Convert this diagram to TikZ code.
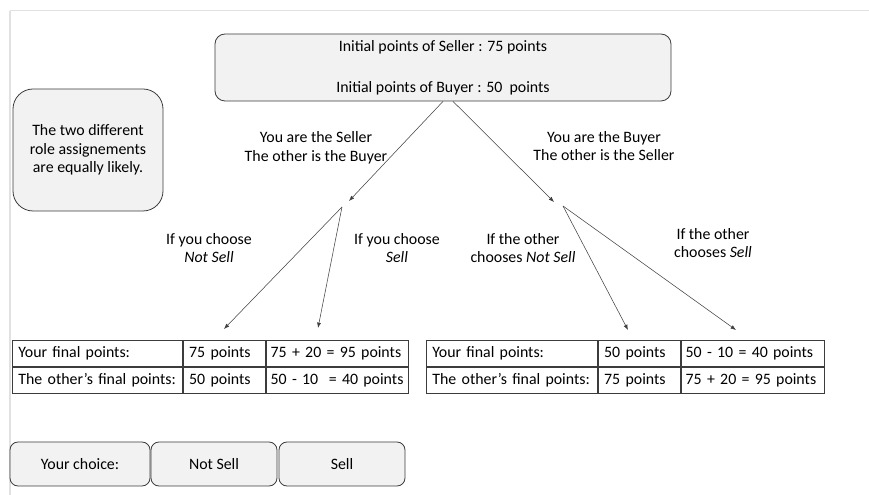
\documentclass[tikz,border=0pt]{standalone}
\usepackage{fontspec}
\setmainfont{Carlito}
\usetikzlibrary{arrows.meta}
\definecolor{boxfill}{RGB}{242,242,242}
\definecolor{boxline}{RGB}{60,60,60}
\definecolor{framegray}{RGB}{225,225,225}

\begin{document}
\begin{tikzpicture}[x=0.75pt,y=0.75pt,yscale=-1,xscale=1,
    font=\fontsize{11.9}{14}\selectfont,
    rbox/.style={draw=boxline, fill=boxfill, line width=0.6pt, align=center, inner sep=0pt},
    cell/.style={draw=boxline, line width=0.6pt, anchor=north west, align=left, inner xsep=4.5pt, inner ysep=0pt, minimum height=19.5pt},
    lbl/.style={align=center, inner sep=0.75pt},
    arr/.style={draw=black!75, line width=0.4pt, -{Latex[length=4pt,width=3pt]}}
  ]
        \useasboundingbox (0,0) rectangle (869,495);

        %Frame of the screen
        \draw [framegray, line width=1.5pt] (10,495) -- (10,11) ;
        \draw [framegray, line width=0.75pt] (10,11) -- (869,11) ;

        %Rounded boxes
        \node [rbox, rounded corners=7.5pt, minimum width=342pt, minimum height=50.25pt] (init) at (443,67.5)
            {Initial points of Seller : 75 points\\[16.75pt]Initial points of Buyer : 50\ \ points};
        \node [rbox, rounded corners=15pt, minimum width=112.5pt, minimum height=91.5pt] (likely) at (88,150)
            {The two different\\role assignements\\are equally likely.};

        %Branch points
        \coordinate (selIn) at (349,201);
        \coordinate (selFork) at (342,207);
        \coordinate (buyIn) at (554,202);
        \coordinate (buyFork) at (563,206);
        \coordinate (selNoTip) at (224,329);
        \coordinate (selYesTip) at (318,328);
        \coordinate (buyNoTip) at (628,330);
        \coordinate (buyYesTip) at (736,330);

        %Straight Lines
        \draw [arr] (init.south) -- (selIn) ;
        \draw [arr] ([xshift=7.5pt]init.south) -- (buyIn) ;
        \draw [arr] (selFork) -- (selNoTip) ;
        \draw [arr] (selFork) -- (selYesTip) ;
        \draw [arr] (buyFork) -- (buyNoTip) ;
        \draw [arr] (buyFork) -- (buyYesTip) ;

        % Text Node
        \node [lbl] (selRole) at (316,148) {You are the Seller\\The other is the Buyer};
        % Text Node
        \node [lbl] (buyRole) at (604,146) {You are the Buyer\\The other is the Seller};
        % Text Node
        \node [lbl] (selNoLbl) at (209,248) {If you choose\\\textit{Not Sell}};
        % Text Node
        \node [lbl] (selYesLbl) at (397,248) {If you choose\\\textit{Sell}};
        % Text Node
        \node [lbl] (buyNoLbl) at (523,248) {If the other\\chooses \textit{Not Sell}};
        % Text Node
        \node [lbl] (buyYesLbl) at (713,243) {If the other\\chooses \textit{Sell}};

        %Table: you are the Seller
        \node [cell, text width=118.5pt] (selYour) at (12,340) {Your final points:};
        \node [cell, text width=52.5pt] (selYourNo) at (selYour.north east) {75 points};
        \node [cell, text width=99.5pt, inner xsep=3.5pt] (selYourYes) at (selYourNo.north east) {\mbox{75 + 20 = 95 points}};
        \node [cell, text width=118.5pt] (selOther) at (selYour.south west) {The other’s final points:};
        \node [cell, text width=52.5pt] (selOtherNo) at (selOther.north east) {50 points};
        \node [cell, text width=99.5pt, inner xsep=3.5pt] (selOtherYes) at (selOtherNo.north east) {\mbox{50 - 10\ \ = 40 points}};

        %Table: you are the Buyer
        \node [cell, text width=119.25pt] (buyYour) at (426,340) {Your final points:};
        \node [cell, text width=52.5pt] (buyYourNo) at (buyYour.north east) {50 points};
        \node [cell, text width=100.25pt, inner xsep=3.5pt] (buyYourYes) at (buyYourNo.north east) {\mbox{50 - 10 = 40 points}};
        \node [cell, text width=119.25pt] (buyOther) at (buyYour.south west) {The other’s final points:};
        \node [cell, text width=52.5pt] (buyOtherNo) at (buyOther.north east) {75 points};
        \node [cell, text width=100.25pt, inner xsep=3.5pt] (buyOtherYes) at (buyOtherNo.north east) {\mbox{75 + 20 = 95 points}};

        %Choice buttons
        \node [rbox, rounded corners=6pt, minimum width=105pt, minimum height=33pt] (choice) at (80,464) {Your choice:};
        \node [rbox, rounded corners=6pt, minimum width=94.5pt, minimum height=33pt] (notSell) at (214,464) {Not Sell};
        \node [rbox, rounded corners=6pt, minimum width=94.5pt, minimum height=33pt] (sell) at (342,464) {Sell};

\end{tikzpicture}
\end{document}
